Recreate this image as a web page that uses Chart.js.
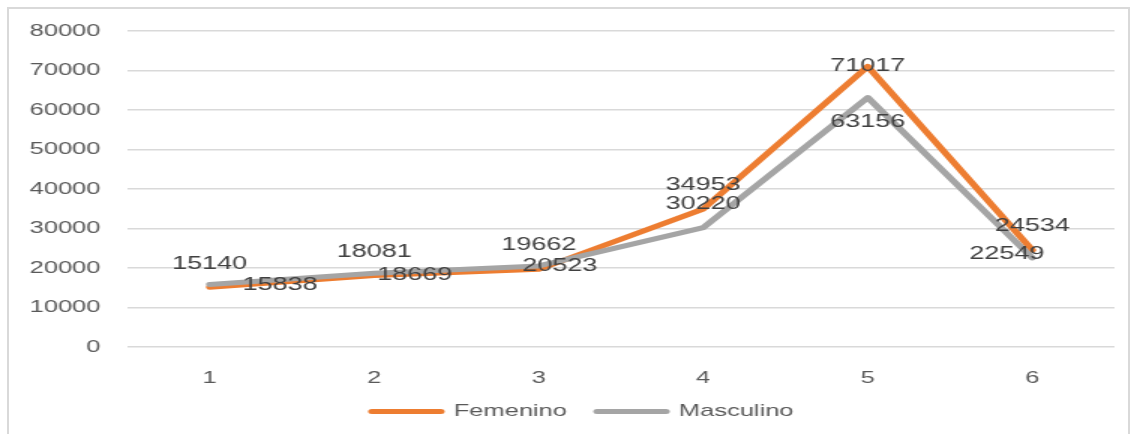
<!DOCTYPE html>
<html>
<head>
<meta charset="utf-8">
<script src="https://cdn.jsdelivr.net/npm/chart.js@4"></script>
<style>
  html, body { margin: 0; padding: 0; background: #fff; overflow: hidden; }
  #frame {
    position: absolute; left: 7px; top: 7px;
    width: 1119px; height: 440px;
    border: 2px solid #d9d9d9;
  }
  /* chart is drawn narrow then stretched sideways, like the reference */
  #wrap {
    position: absolute; left: 0; top: 0;
    width: 753px; height: 434px;
    transform: scaleX(1.5); transform-origin: 0 0;
  }
</style>
</head>
<body>
<div id="frame"></div>
<div id="wrap"><canvas id="chartCanvas"></canvas></div>
<script>
const categories = ["1", "2", "3", "4", "5", "6"];
const femenino = [15140, 18081, 19662, 34953, 71017, 24534];
const masculino = [15838, 18669, 20523, 30220, 63156, 22549];
const yTicks = [0, 10000, 20000, 30000, 40000, 50000, 60000, 70000, 80000];

// label placement (px offsets from each point, before the sideways stretch)
const femLabelPos = [[0, -23], [0, -24], [0, -24], [0, -24], [0, 0], [0, -24]];
const mascLabelPos = [[47, 1], [27, 2], [14, 0], [0, -24], [0, 24], [-17, -4]];

const FONT = "'Liberation Sans', Arial, sans-serif";

/* ----------------------------------------
   DATA LABELS
---------------------------------------- */
const pointLabels = {
    id: "pointLabels",
    afterDatasetsDraw(chart) {
        const ctx = chart.ctx;
        const offsets = [femLabelPos, mascLabelPos];
        ctx.save();
        ctx.font = "18px " + FONT;
        ctx.fillStyle = "#404040";
        ctx.textAlign = "center";
        ctx.textBaseline = "middle";
        chart.data.datasets.forEach((ds, i) => {
            const meta = chart.getDatasetMeta(i);
            meta.data.forEach((pt, j) => {
                const [dx, dy] = offsets[i][j];
                ctx.fillText(String(ds.data[j]), pt.x + dx, pt.y + dy);
            });
        });
        ctx.restore();
    }
};

// nudge the legend a bit to the right
const legendShift = {
    id: "legendShift",
    afterLayout(chart) {
        if (chart.legend) {
            chart.legend.left += 17;
            chart.legend.right += 17;
        }
    }
};

const ctx = document.getElementById("chartCanvas").getContext("2d");

new Chart(ctx, {
    type: "line",
    data: {
        labels: categories,
        datasets: [
            {
                label: "Femenino",
                data: femenino,
                borderColor: "#ED7D31",
                backgroundColor: "#ED7D31",
                borderWidth: 5,
                pointRadius: 0,
                borderJoinStyle: "round",
                borderCapStyle: "round",
                order: 1
            },
            {
                label: "Masculino",
                data: masculino,
                borderColor: "#A5A5A5",
                backgroundColor: "#A5A5A5",
                borderWidth: 5,
                pointRadius: 0,
                borderJoinStyle: "round",
                borderCapStyle: "round",
                order: 0
            }
        ]
    },
    options: {
        responsive: true,
        maintainAspectRatio: false,
        animation: false,
        layout: {
            padding: { top: 31, right: 10, bottom: 4, left: 0 }
        },
        plugins: {
            tooltip: { enabled: false },
            legend: {
                position: "bottom",
                labels: {
                    color: "#595959",
                    font: { family: FONT, size: 17 },
                    usePointStyle: true,
                    pointStyleWidth: 46,
                    padding: 20,
                    sort: (a, b) => a.datasetIndex - b.datasetIndex,
                    generateLabels(chart) {
                        const items = Chart.defaults.plugins.legend.labels.generateLabels(chart);
                        items.forEach(it => {
                            it.pointStyle = "line";
                            it.lineWidth = 5;
                            it.lineCap = "round";
                        });
                        return items;
                    }
                }
            }
        },
        scales: {
            x: {
                offset: true,
                grid: { display: false, drawTicks: false },
                border: { display: false },
                ticks: {
                    color: "#595959",
                    font: { family: FONT, size: 17 },
                    padding: 21
                },
                afterFit(scale) { scale.height = 36; }
            },
            y: {
                min: 0,
                max: 80000,
                grid: { color: "#d9d9d9", lineWidth: 1.5, drawTicks: false },
                border: { display: false },
                afterBuildTicks(scale) {
                    scale.ticks = yTicks.map(v => ({ value: v }));
                },
                ticks: {
                    color: "#595959",
                    font: { family: FONT, size: 17 },
                    padding: 18,
                    callback: value => String(value)
                },
                afterFit(scale) { scale.width = 85; }
            }
        }
    },
    plugins: [pointLabels, legendShift]
});
</script>
</body>
</html>
